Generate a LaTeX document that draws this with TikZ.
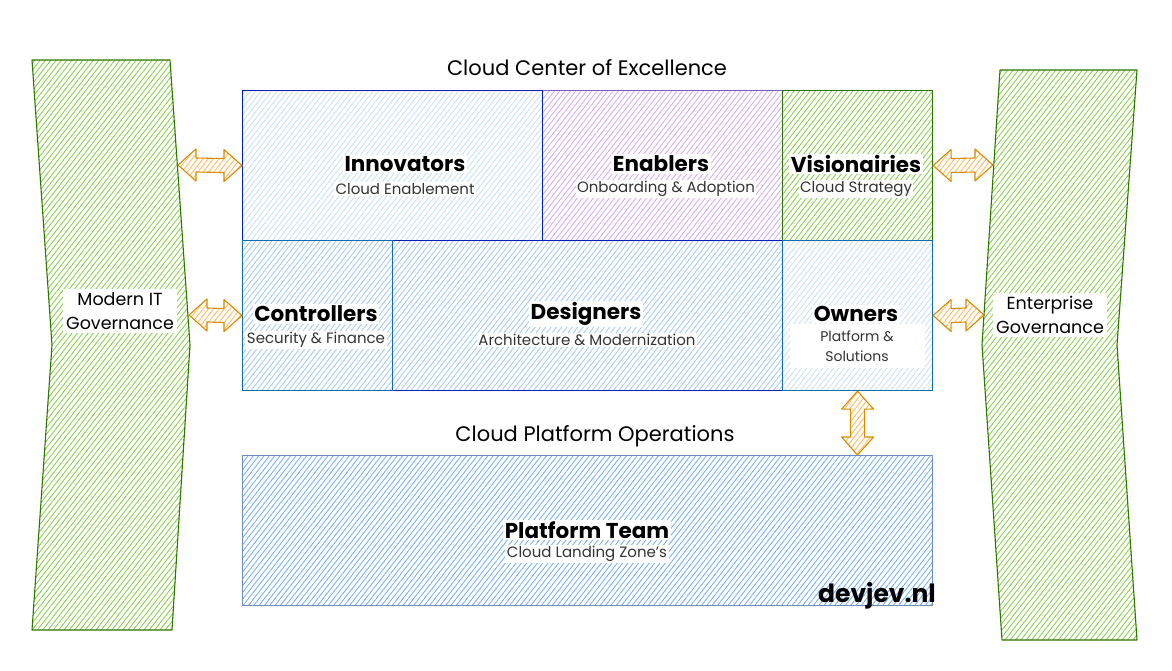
\documentclass[tikz,border=0pt]{standalone}
\usepackage{fontspec}
\setmainfont{Poppins}
\usetikzlibrary{patterns.meta,calc}
\definecolor{gH}{RGB}{140,210,80}
\definecolor{gB}{RGB}{45,118,0}
\definecolor{inH}{RGB}{205,225,250}
\definecolor{inB}{RGB}{0,30,190}
\definecolor{enH}{RGB}{215,175,245}
\definecolor{enB}{RGB}{120,90,200}
\definecolor{bH}{RGB}{168,205,245}
\definecolor{bB}{RGB}{16,110,175}
\definecolor{pH}{RGB}{125,178,240}
\definecolor{pB}{RGB}{108,142,191}
\definecolor{aH}{RGB}{255,190,100}
\definecolor{aB}{RGB}{215,140,0}
\newcommand\dblH[2]{%
  \draw[arr] let \p1=(#1), \p2=(#2) in
    (\x1,\y1) -- (\x1+18pt,\y1+16pt) -- (\x1+18pt,\y1+7pt) -- (\x2-18pt,\y2+7pt)
    -- (\x2-18pt,\y2+16pt) -- (\x2,\y2) -- (\x2-18pt,\y2-16pt) -- (\x2-18pt,\y2-7pt)
    -- (\x1+18pt,\y1-7pt) -- (\x1+18pt,\y1-16pt) -- cycle;}
\newcommand\dblV[2]{%
  \draw[arr] let \p1=(#1), \p2=(#2) in
    (\x1,\y1) -- (\x1+16pt,\y1-18pt) -- (\x1+7pt,\y1-18pt) -- (\x2+7pt,\y2+18pt)
    -- (\x2+16pt,\y2+18pt) -- (\x2,\y2) -- (\x2-16pt,\y2+18pt) -- (\x2-7pt,\y2+18pt)
    -- (\x1-7pt,\y1-18pt) -- (\x1-16pt,\y1-18pt) -- cycle;}
\begin{document}
\begin{tikzpicture}[x=1pt,y=-1pt,
  hatch/.style={pattern={Lines[angle=52,distance=4.2pt,line width=0.9pt]}, pattern color=#1},
  cbox/.style={rectangle, anchor=north west, line width=1.1pt, inner sep=0pt},
  gshape/.style={draw=gB, line width=1.1pt, line join=round, hatch=gH},
  arr/.style={draw=aB, line width=1.1pt, line join=round, hatch=aH},
  ttl/.style={fill=white, inner sep=1.5pt, font=\fontsize{21}{24}\selectfont},
  lbl/.style={fill=white, inner sep=1.5pt, font=\bfseries\fontsize{21.5}{24}\selectfont},
  sub/.style={fill=white, inner sep=1.5pt, text=black!80, font=\fontsize{15}{19}\selectfont},
  side/.style={fill=white, inner sep=3pt, align=center, font=\fontsize{17.5}{24}\selectfont}]
\useasboundingbox[fill=white] (0,0) rectangle (1172,671);

% side governance shapes
\path[gshape] (32,60) -- (170,60) -- (190,345) -- (172,630) -- (32,630) -- (52,345) -- cycle;
\path[gshape] (1000,70) -- (1137,70) -- (1117,345) -- (1137,640) -- (1002,640) -- (982,345) -- cycle;
\node[side] (modit) at (120,311) {Modern IT\\Governance};
\node[side] (entgov) at (1050,315) {Enterprise\\Governance};

% titles
\node[ttl] (cce) at (587,68) {Cloud Center of Excellence};
\node[ttl] (cpo) at (595,436) {Cloud Platform Operations};

% boxes
\node[cbox, draw=enB, hatch=enH, minimum width=240pt, minimum height=150pt] (enab) at (542,90) {};
\node[cbox, draw=inB, hatch=inH, minimum width=300pt, minimum height=150pt] (innov) at (242,90) {};
\node[cbox, draw=gB, hatch=gH, minimum width=150pt, minimum height=150pt] (vision) at (782,90) {};
\node[cbox, draw=inB, hatch=bH, minimum width=390pt, minimum height=150pt] (design) at (392,240) {};
\node[cbox, draw=bB, hatch=bH, minimum width=150pt, minimum height=150pt] (contr) at (242,240) {};
\node[cbox, draw=bB, hatch=inH, minimum width=150pt, minimum height=150pt] (owner) at (782,240) {};
\node[cbox, draw=pB, hatch=pH, minimum width=690pt, minimum height=150pt] (plat) at (242,455) {};

% labels
\node[lbl] (innovT) at (405,164) {Innovators};
\node[sub] (innovS) at (405,189) {Cloud Enablement};
\node[lbl] (enabT) at (661,164) {Enablers};
\node[sub] (enabS) at (666,189) {Onboarding \& Adoption};
\node[lbl] (visT) at (856,164) {Visionairies};
\node[sub] (visS) at (856,189) {Cloud Strategy};
\node[lbl] (conT) at (316,314) {Controllers};
\node[sub] (conS) at (316,340) {Security \& Finance};
\node[lbl] (desT) at (586,314) {Designers};
\node[sub] (desS) at (587,340) {Architecture \& Modernization};
\node[sub, minimum width=135pt, minimum height=44pt, align=center, font=\fontsize{14}{20}\selectfont] (ownS) at (857,346) {Platform \&\\Solutions};
\node[lbl] (ownT) at (856,314) {Owners};
\node[lbl] (platT) at (587,530) {Platform Team};
\node[sub] (platS) at (587,554) {Cloud Landing Zone's};
\node[font=\bfseries\fontsize{25}{30}\selectfont, inner sep=0pt] (brand) at (877,596) {devjev.nl};

% arrows
\coordinate (lg1) at (178,165);
\coordinate (lg2) at (189,315);
\coordinate (rg1) at (993,165);
\coordinate (rg2) at (984,315);
\dblH{lg1}{innov.west}
\dblH{lg2}{contr.west}
\dblH{vision.east}{rg1}
\dblH{owner.east}{rg2}
\coordinate (pt) at (owner.south |- plat.north);
\dblV{owner.south}{pt}
\end{tikzpicture}
\end{document}
